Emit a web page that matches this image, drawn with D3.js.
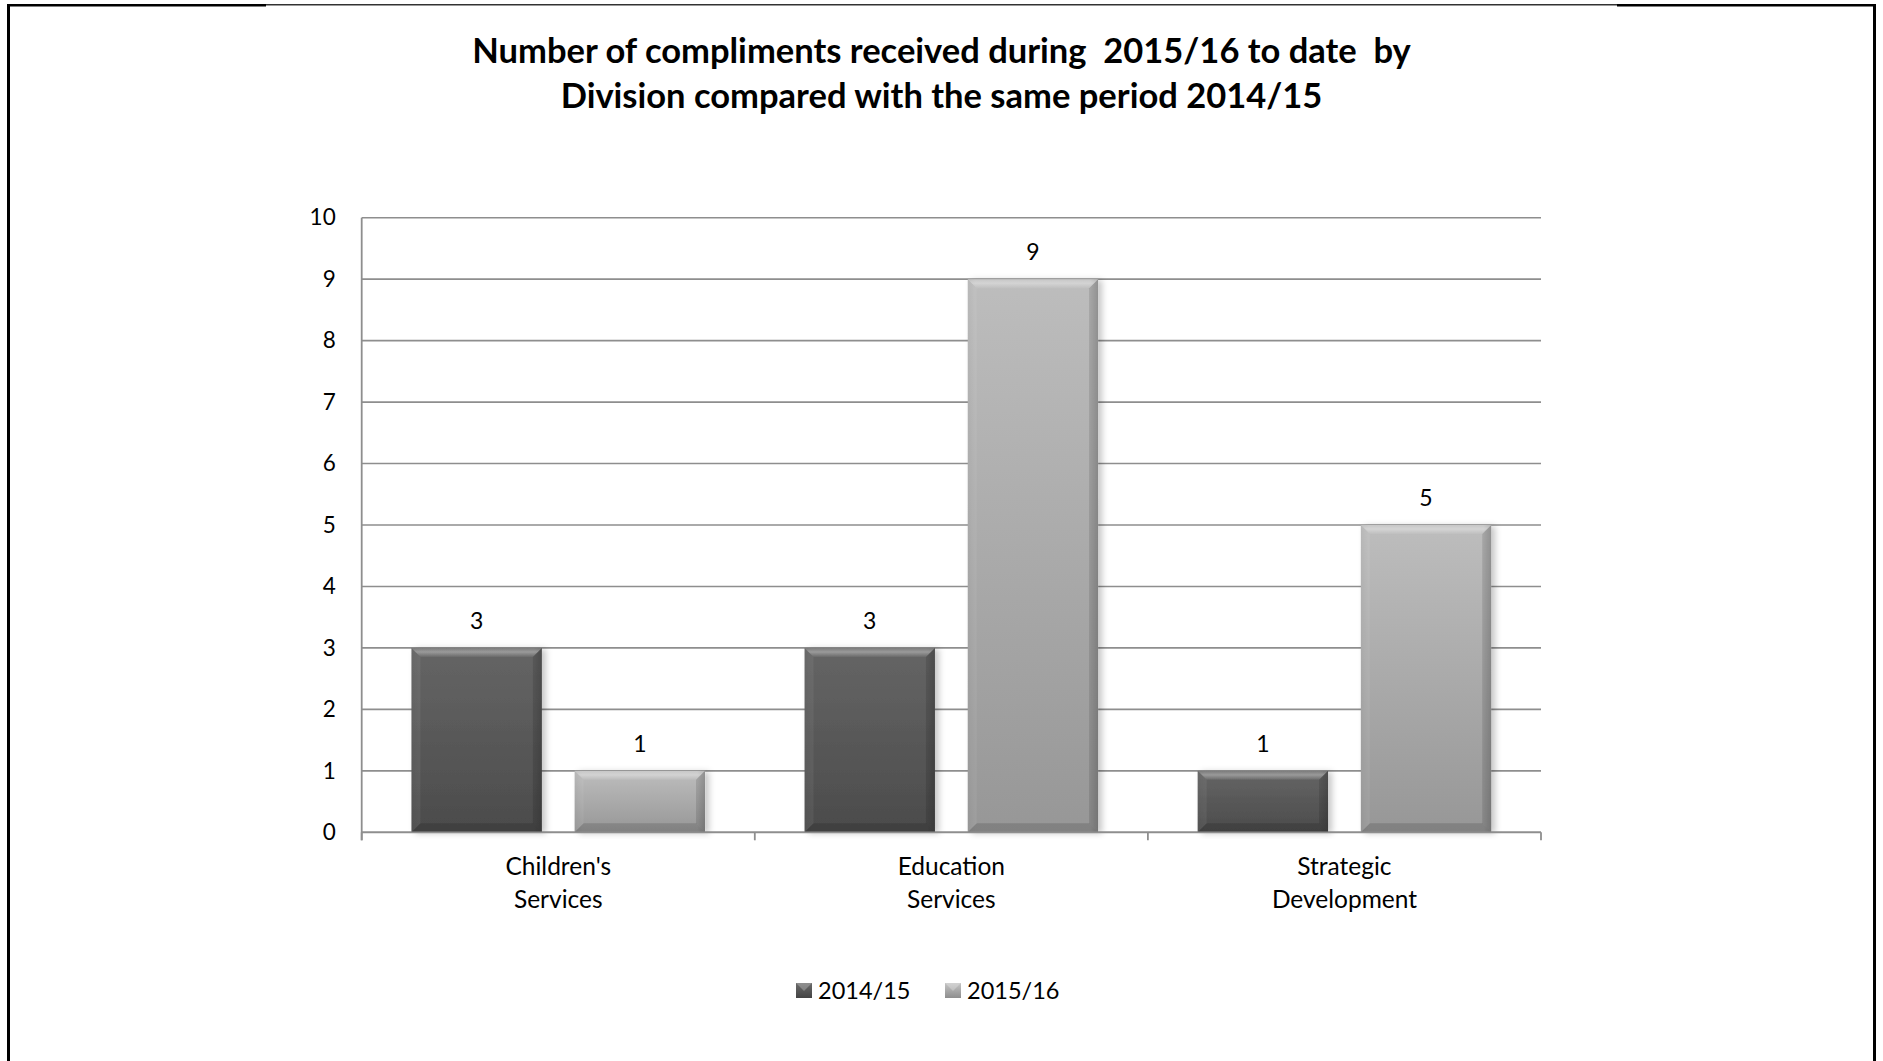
<!DOCTYPE html>
<html>
<head>
<meta charset="utf-8">
<script src="https://cdn.jsdelivr.net/npm/d3@7"></script>
<style>
  html, body { margin: 0; padding: 0; background: #fff; }
  svg { display: block; }
  text { font-family: Lato, "Open Sans", sans-serif; fill: #000; }
</style>
</head>
<body>
<svg id="chart" width="1883" height="1061"></svg>
<script>
// Compliments by division, two reporting periods
const categories = ["Children's Services", "Education Services", "Strategic Development"];
const categoryLines = [["Children's", "Services"], ["Education", "Services"], ["Strategic", "Development"]];
const seriesNames = ["2014/15", "2015/16"];
const values2014 = [3, 3, 1];
const values2015 = [1, 9, 5];
const yTicks = [0, 1, 2, 3, 4, 5, 6, 7, 8, 9, 10];
const titleLines = [
  "Number of compliments received during\u00a0 2015/16 to date\u00a0 by",
  "Division compared with the same period 2014/15"
];

const seriesValues = [values2014, values2015];
const W = 1883, H = 1061;
const plot = { left: 361.7, right: 1541, top: 217.7, bottom: 832.3 };

const svg = d3.select("#chart");
const defs = svg.append("defs");

// Frame around the chart area
const frame = svg.append("g");
frame.append("rect").attr("x", 7).attr("y", 4).attr("width", 3).attr("height", H - 4).attr("fill", "#000");
frame.append("rect").attr("x", 1873).attr("y", 4).attr("width", 3).attr("height", H - 4).attr("fill", "#000");
frame.append("rect").attr("x", 7).attr("y", 4).attr("width", 259).attr("height", 2.5).attr("fill", "#000");
frame.append("rect").attr("x", 1617).attr("y", 4).attr("width", 259).attr("height", 2.5).attr("fill", "#000");
frame.append("rect").attr("x", 266).attr("y", 4.2).attr("width", 1351).attr("height", 1.2).attr("fill", "#000");

// Title
svg.append("g").selectAll("text").data(titleLines).join("text")
  .attr("x", W / 2).attr("y", (d, i) => 63 + i * 44.5)
  .attr("text-anchor", "middle")
  .attr("font-size", 34.5).attr("font-weight", "bold")
  .text(d => d);

// Scales
const y = d3.scaleLinear().domain([0, 10]).range([plot.bottom, plot.top]);
const x0 = d3.scaleBand().domain(categories).range([plot.left, plot.right]).padding(0);
const x1 = d3.scaleBand().domain(seriesNames).range([0, x0.bandwidth()])
  .paddingInner(0.201).paddingOuter(0.305);

// Gradients and shadow for bevelled bars
const barColors = [
  { top: "#656565", bottom: "#4b4b4b", legendTop: "#6a6a6a", legendBottom: "#444" },
  { top: "#bdbdbd", bottom: "#979797", legendTop: "#c4c4c4", legendBottom: "#8e8e8e" }
];
barColors.forEach((c, i) => {
  const g = defs.append("linearGradient").attr("id", "grad" + i)
    .attr("x1", 0).attr("y1", 0).attr("x2", 0).attr("y2", 1);
  g.append("stop").attr("offset", "0%").attr("stop-color", c.top);
  g.append("stop").attr("offset", "100%").attr("stop-color", c.bottom);
  const s = defs.append("linearGradient").attr("id", "side" + i)
    .attr("x1", 0).attr("y1", 0).attr("x2", 1).attr("y2", 0);
  s.append("stop").attr("offset", "0%").attr("stop-color", "#000").attr("stop-opacity", 0.05);
  s.append("stop").attr("offset", "6%").attr("stop-color", "#000").attr("stop-opacity", 0);
  s.append("stop").attr("offset", "94%").attr("stop-color", "#000").attr("stop-opacity", 0);
  s.append("stop").attr("offset", "100%").attr("stop-color", "#000").attr("stop-opacity", 0.12);
});
const tg = defs.append("linearGradient").attr("id", "topBevel")
  .attr("x1", 0).attr("y1", 0).attr("x2", 0).attr("y2", 1);
tg.append("stop").attr("offset", "0%").attr("stop-color", "#fff").attr("stop-opacity", 0.15);
tg.append("stop").attr("offset", "45%").attr("stop-color", "#fff").attr("stop-opacity", 0.35);
tg.append("stop").attr("offset", "100%").attr("stop-color", "#fff").attr("stop-opacity", 0.05);
const shadow = defs.append("filter").attr("id", "shadow")
  .attr("x", "-10%").attr("y", "-10%").attr("width", "130%").attr("height", "120%");
shadow.append("feDropShadow").attr("dx", 4).attr("dy", 1).attr("stdDeviation", 3)
  .attr("flood-color", "#000").attr("flood-opacity", 0.22);

// Gridlines
const gridColor = "#8e8e8e";
svg.append("g").selectAll("line").data(yTicks).join("line")
  .attr("x1", plot.left).attr("x2", plot.right)
  .attr("y1", d => y(d)).attr("y2", d => y(d))
  .attr("stroke", gridColor).attr("stroke-width", 1.6);

// Y axis labels
const yAxis = d3.axisLeft(y).tickValues(yTicks).tickSize(0).tickPadding(26).tickFormat(d3.format("d"));
const yg = svg.append("g").attr("transform", `translate(${plot.left},0)`).call(yAxis);
yg.select(".domain").remove();
yg.selectAll("text").attr("font-size", 22.5).attr("font-family", "Lato, sans-serif").attr("fill", "#000");

// Bars
const rows = categories.map((c, i) => ({ cat: c, i }));
const groups = svg.append("g").selectAll("g").data(rows).join("g")
  .attr("transform", d => `translate(${x0(d.cat)},0)`);

groups.each(function (row) {
  const g = d3.select(this);
  seriesNames.forEach((s, si) => {
    const v = seriesValues[si][row.i];
    const bx = x1(s), bw = x1.bandwidth();
    const by = y(v), bh = y(0) - y(v);
    const b = Math.min(9, bh / 2);
    const bar = g.append("g");
    bar.append("rect").attr("x", bx).attr("y", by).attr("width", bw).attr("height", bh)
      .attr("fill", `url(#grad${si})`).attr("filter", "url(#shadow)");
    bar.append("rect").attr("x", bx).attr("y", by).attr("width", bw).attr("height", bh)
      .attr("fill", `url(#side${si})`);
    // top bevel
    bar.append("path")
      .attr("d", `M${bx},${by}L${bx + bw},${by}L${bx + bw - b},${by + b}L${bx + b},${by + b}Z`)
      .attr("fill", "url(#topBevel)");
    // left bevel
    bar.append("path")
      .attr("d", `M${bx},${by}L${bx + b},${by + b}L${bx + b},${by + bh - b}L${bx},${by + bh}Z`)
      .attr("fill", "#fff").attr("fill-opacity", 0.06);
    // right bevel
    bar.append("path")
      .attr("d", `M${bx + bw},${by}L${bx + bw - b},${by + b}L${bx + bw - b},${by + bh - b}L${bx + bw},${by + bh}Z`)
      .attr("fill", "#000").attr("fill-opacity", 0.12);
    // bottom bevel
    bar.append("path")
      .attr("d", `M${bx},${by + bh}L${bx + b},${by + bh - b}L${bx + bw - b},${by + bh - b}L${bx + bw},${by + bh}Z`)
      .attr("fill", "#000").attr("fill-opacity", 0.14);
    // value label
    g.append("text").attr("x", bx + bw / 2).attr("y", by - 19)
      .attr("text-anchor", "middle").attr("font-size", 23)
      .text(v);
  });
});

// X axis line and ticks
const axisG = svg.append("g");
axisG.append("line").attr("x1", plot.left).attr("x2", plot.right)
  .attr("y1", plot.bottom).attr("y2", plot.bottom)
  .attr("stroke", gridColor).attr("stroke-width", 1.8);
axisG.append("line").attr("x1", plot.left).attr("x2", plot.left)
  .attr("y1", plot.top).attr("y2", plot.bottom + 8)
  .attr("stroke", gridColor).attr("stroke-width", 1.8);
const tickXs = categories.map(c => x0(c)).concat([x0(categories[categories.length - 1]) + x0.bandwidth()]);
axisG.selectAll("line.tick").data(tickXs).join("line").attr("class", "tick")
  .attr("x1", d => d).attr("x2", d => d)
  .attr("y1", plot.bottom).attr("y2", plot.bottom + 8)
  .attr("stroke", gridColor).attr("stroke-width", 1.8);

// Category labels
const catG = svg.append("g").selectAll("text").data(rows).join("text")
  .attr("text-anchor", "middle").attr("font-size", 24.5)
  .attr("x", d => x0(d.cat) + x0.bandwidth() / 2);
catG.selectAll("tspan").data(d => categoryLines[d.i].map(t => ({ t, x: x0(d.cat) + x0.bandwidth() / 2 })))
  .join("tspan").attr("x", d => d.x).attr("y", (d, i) => 875 + i * 33).text(d => d.t);

// Legend
const legendItems = [{ name: seriesNames[0], x: 796 }, { name: seriesNames[1], x: 945 }];
const lg = svg.append("g");
legendItems.forEach((it, i) => {
  const lgGrad = defs.append("linearGradient").attr("id", "lg" + i)
    .attr("x1", 0).attr("y1", 0).attr("x2", 0).attr("y2", 1);
  lgGrad.append("stop").attr("offset", "0%").attr("stop-color", barColors[i].legendTop);
  lgGrad.append("stop").attr("offset", "100%").attr("stop-color", barColors[i].legendBottom);
  lg.append("rect").attr("x", it.x).attr("y", 983).attr("width", 16).attr("height", 15)
    .attr("fill", `url(#lg${i})`);
  lg.append("path")
    .attr("d", `M${it.x},983L${it.x + 16},983L${it.x + 8},991Z`)
    .attr("fill", "#fff").attr("fill-opacity", 0.25);
  lg.append("text").attr("x", it.x + 22).attr("y", 999)
    .attr("font-size", 23.5).text(it.name);
});
</script>
</body>
</html>
